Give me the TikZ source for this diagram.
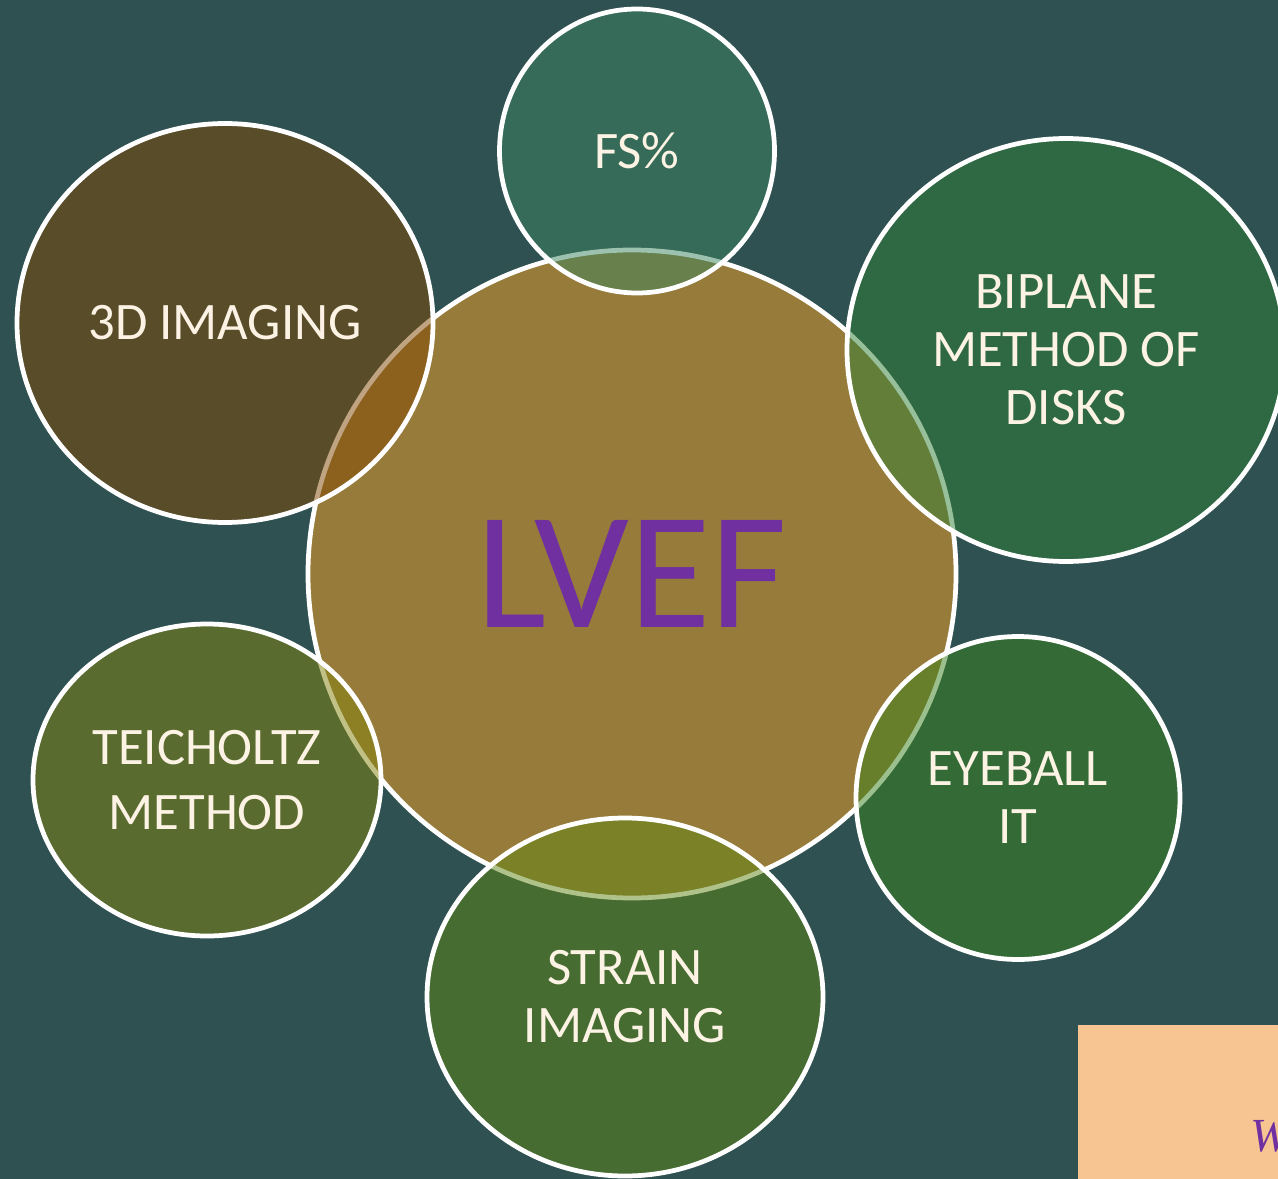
\documentclass[tikz,border=0pt]{standalone}
\usepackage{fontspec}
\setmainfont{Carlito}
\newfontfamily\notefont{Liberation Serif}
\usetikzlibrary{positioning,shapes.geometric}
\definecolor{bgteal}{HTML}{2F5151}
\definecolor{lvefgold}{HTML}{967B3A}
\definecolor{lvefpurple}{HTML}{7030A0}
\definecolor{txtcream}{HTML}{FDF3E4}
\definecolor{peach}{HTML}{F7C591}
\definecolor{fsgreen}{RGB}{59,133,95}
\definecolor{threedbrown}{RGB}{131,73,3}
\definecolor{biplanegreen}{RGB}{47,129,55}
\definecolor{teicholive}{RGB}{133,133,15}
\definecolor{eyegreen}{RGB}{57,131,29}
\definecolor{strainolive}{RGB}{95,135,21}

\begin{document}
\begin{tikzpicture}[
        x=0.02cm, y=-0.02cm,
        sz/.style 2 args={minimum width=#1*0.02cm, minimum height=#2*0.02cm},
        hub/.style={
            ellipse, inner sep=0pt,
            draw=white, line width=2.7pt,
            fill=lvefgold, text=lvefpurple,
            font=\fontsize{95}{100}\selectfont
        },
        satellite/.style={
            ellipse, inner sep=0pt, align=center,
            draw=white, line width=2.7pt,
            fill=#1, fill opacity=0.5, text opacity=1,
            text=txtcream,
            font=\fontsize{30}{33}\selectfont
        }
    ]

        \useasboundingbox (0,0) rectangle (1278,1179);
        \clip (0,0) rectangle (1278,1179);
        \fill[bgteal] (0,0) rectangle (1278,1179);

        \node[hub, sz={648}{648}] (lvef) at (632,574) {LVEF};

        \node[satellite=fsgreen, sz={275}{284}] (fs) at (637,151) {FS\%};
        \node[satellite=threedbrown, sz={416}{399}] (threed) at (225,323) {3D IMAGING};
        \node[satellite=biplanegreen, sz={438}{423}] (biplane) at (1066,350) {BIPLANE\\METHOD OF\\DISKS};
        \node[satellite=teicholive, sz={348}{312},
              font=\fontsize{30}{37}\selectfont] (teicholtz) at (207,780) {TEICHOLTZ\\METHOD};
        \node[satellite=eyegreen, sz={324}{323}] (eyeball) at (1018,798) {EYEBALL\\IT};
        \node[satellite=strainolive, sz={396}{358}] (strain) at (625,997) {STRAIN\\IMAGING};

        % corner box
        \fill[peach] (1078,1025) rectangle (1300,1200);
        \node[anchor=base west, inner sep=0pt, text=lvefpurple,
              font=\notefont\fontsize{27}{30}\selectfont\itshape] (note) at (1250,1151) {W};
    \end{tikzpicture}
\end{document}
